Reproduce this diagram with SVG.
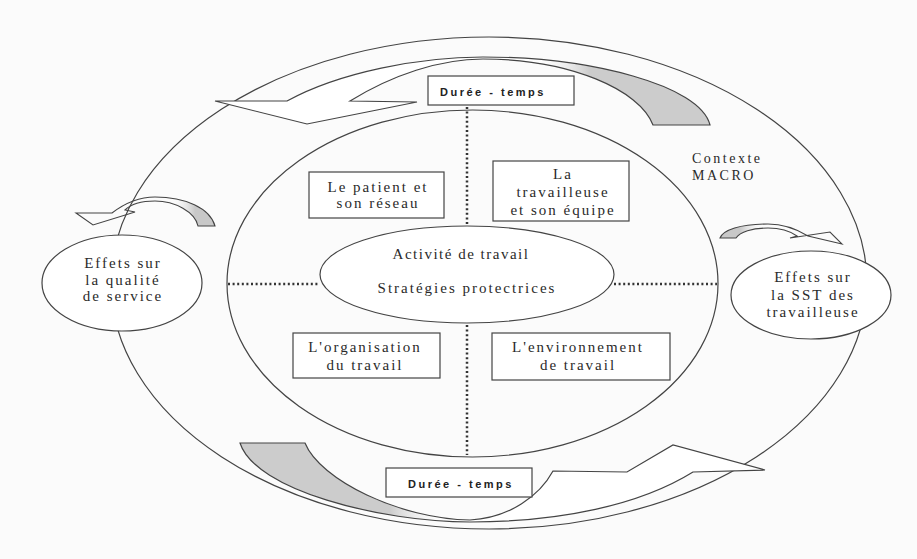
<svg xmlns="http://www.w3.org/2000/svg" width="917" height="559" viewBox="0 0 917 559">
<style>
.ln{fill:none;stroke:#444;stroke-width:1.2}
.sh{fill:#fff;stroke:#444;stroke-width:1.2}
.t{font-family:"Liberation Serif",serif;font-size:15px;letter-spacing:2px;fill:#2a2a2a;text-anchor:middle}
.dur{font-family:"Liberation Sans",sans-serif;font-weight:bold;font-size:11px;letter-spacing:2.5px;fill:#222;text-anchor:middle}
.dot{fill:none;stroke:#333;stroke-width:2.5;stroke-dasharray:2 2.6}
</style>
<defs>
<linearGradient id="gTop" x1="530" y1="0" x2="590" y2="0" gradientUnits="userSpaceOnUse">
<stop offset="0" stop-color="#fff" stop-opacity="0"/><stop offset="1" stop-color="#cccccc"/></linearGradient>
<linearGradient id="gBot" x1="450" y1="0" x2="390" y2="0" gradientUnits="userSpaceOnUse">
<stop offset="0" stop-color="#fff" stop-opacity="0"/><stop offset="1" stop-color="#cccccc"/></linearGradient>
<linearGradient id="gL" x1="170" y1="0" x2="195" y2="0" gradientUnits="userSpaceOnUse">
<stop offset="0" stop-color="#fff" stop-opacity="0"/><stop offset="1" stop-color="#c8c8c8"/></linearGradient>
<linearGradient id="gR" x1="765" y1="0" x2="740" y2="0" gradientUnits="userSpaceOnUse">
<stop offset="0" stop-color="#fff" stop-opacity="0"/><stop offset="1" stop-color="#c8c8c8"/></linearGradient>
</defs>
<rect width="917" height="559" fill="#fbfbfb"/>

<g id="contexte-macro">
<ellipse class="ln" cx="489" cy="283" rx="378" ry="246"/>
<text class="t" style="text-anchor:start;font-size:14px;letter-spacing:2.5px" x="692" y="163">Contexte</text>
<text class="t" style="text-anchor:start;font-size:14px;letter-spacing:2.5px" x="692" y="180">MACRO</text>
</g>

<g id="fleche-haut">
<path fill="#fff" d="M215,101 L287,101 C340,72 420,57 483,57 C590,57 700,85 710,125 L653,125 C640,90 570,59 483,59 C440,59 392,75 350,101 L417,102 L307,124 Z"/>
<path fill="url(#gTop)" d="M215,101 L287,101 C340,72 420,57 483,57 C590,57 700,85 710,125 L653,125 C640,90 570,59 483,59 C440,59 392,75 350,101 L417,102 L307,124 Z"/>
<path class="ln" d="M215,101 L287,101 C340,72 420,57 483,57 C590,57 700,85 710,125 L653,125 C640,90 570,59 483,59 C440,59 392,75 350,101 L417,102 L307,124 Z"/>
</g>

<g id="fleche-bas">
<path fill="#fff" d="M765,470 L693,472 C640,505 560,522 470,522 C380,522 255,490 240,443 L305,443 C320,480 400,519 470,520 C510,518 540,495 553,471 L627,472 L673,445 Z"/>
<path fill="url(#gBot)" d="M765,470 L693,472 C640,505 560,522 470,522 C380,522 255,490 240,443 L305,443 C320,480 400,519 470,520 C510,518 540,495 553,471 L627,472 L673,445 Z"/>
<path class="ln" d="M765,470 L693,472 C640,505 560,522 470,522 C380,522 255,490 240,443 L305,443 C320,480 400,519 470,520 C510,518 540,495 553,471 L627,472 L673,445 Z"/>
</g>

<g id="cadre-interieur">
<ellipse class="ln" cx="472.5" cy="283.5" rx="245.5" ry="173.5"/>
</g>

<g id="connecteurs">
<line class="dot" x1="467" y1="107" x2="467" y2="226"/>
<line class="dot" x1="467" y1="325" x2="467" y2="455"/>
<line class="dot" x1="228" y1="284" x2="320" y2="284"/>
<line class="dot" x1="614" y1="284" x2="717" y2="284"/>
</g>

<g id="activite">
<ellipse class="sh" cx="467" cy="274.5" rx="147" ry="48.5"/>
<text class="t" x="461" y="259" style="letter-spacing:1.5px">Activité de travail</text>
<text class="t" x="467" y="293">Stratégies protectrices</text>
</g>

<g id="duree-haut">
<rect class="sh" x="428" y="76" width="146" height="29"/>
<text class="dur" x="493" y="96">Durée - temps</text>
</g>

<g id="duree-bas">
<rect class="sh" x="386" y="468" width="146" height="29"/>
<text class="dur" x="461" y="488">Durée - temps</text>
</g>

<g id="patient">
<rect class="sh" x="309" y="172" width="135" height="46"/>
<text class="t" x="378" y="192">Le patient et</text>
<text class="t" x="378" y="208">son réseau</text>
</g>

<g id="travailleuse">
<rect class="sh" x="493" y="161" width="136" height="60"/>
<text class="t" x="563" y="179">La</text>
<text class="t" x="563" y="197">travailleuse</text>
<text class="t" x="563" y="215">et son équipe</text>
</g>

<g id="organisation">
<rect class="sh" x="293" y="333" width="147" height="45"/>
<text class="t" x="365" y="352">L'organisation</text>
<text class="t" x="365" y="370">du travail</text>
</g>

<g id="environnement">
<rect class="sh" x="492" y="333" width="178" height="47"/>
<text class="t" x="578" y="352">L'environnement</text>
<text class="t" x="578" y="370">de travail</text>
</g>

<g id="effets-qualite">
<ellipse class="sh" cx="122" cy="283" rx="80" ry="48"/>
<text class="t" x="123" y="268">Effets sur</text>
<text class="t" x="123" y="285">la qualité</text>
<text class="t" x="123" y="301">de service</text>
</g>

<g id="effets-sst">
<ellipse class="sh" cx="811" cy="295" rx="80" ry="44"/>
<text class="t" x="813" y="282">Effets sur</text>
<text class="t" x="813" y="300">la  SST des</text>
<text class="t" x="813" y="317">travailleuse</text>
</g>

<g id="fleche-gauche">
<path fill="url(#gL)" stroke="#444" stroke-width="1.1" d="M76,213 L112,213 C125,203 140,197 155,197 C185,197 210,208 215,226 L198,226 C195,212 175,201 155,201 C140,201 130,205 125,210 L135,212 L93,225 Z"/>
</g>

<g id="fleche-droite">
<path fill="url(#gR)" stroke="#444" stroke-width="1.1" d="M842,244 L808,236 C795,228 782,224 768,224 C740,224 723,230 720,238 L736,238 C740,232 752,228 768,228 C780,228 790,231 797,236 L790,238 L830,232 Z"/>
</g>
</svg>
